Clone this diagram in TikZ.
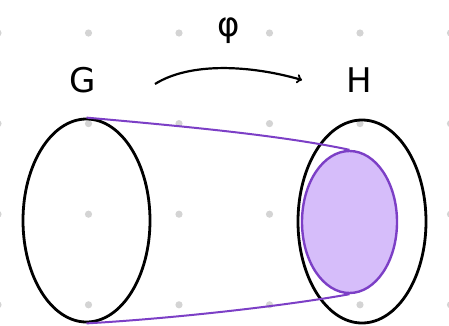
\documentclass[tikz,border=0pt]{standalone}
\usepackage{fontspec}
\setmainfont{DejaVu Sans}
\usetikzlibrary{arrows}
\usetikzlibrary{shapes.geometric}

\begin{document}
\begin{tikzpicture}[x=1pt,y=-1pt,
		set/.style={ellipse,draw=black,line width=2.8pt,inner sep=0pt},
		image/.style={ellipse,draw=imgline,fill=imgfill,line width=2.4pt,inner sep=0pt},
		label/.style={font=\fontsize{34}{34}\selectfont}]
		\definecolor{imgline}{HTML}{7C3FC6}
		\definecolor{imgfill}{HTML}{D6BDFA}
		\definecolor{griddot}{HTML}{D4D4D4}
		% Fixing the page to the size of the reference
		\useasboundingbox (0,0) rectangle (449,325);
		% Background grid of dots
		\foreach \i in {0,...,5}
			\foreach \j in {0,...,3}
				\fill[griddot] (-2+90.5*\i,33+90.6*\j) circle (3.6);
		% The two sets
		\node[set,minimum width=127,minimum height=203] (G set) at (86.5,220.5) {};
		\node[set,minimum width=128,minimum height=203] (H set) at (362,221.5) {};
		% The image of G inside H
		\node[image,minimum width=95,minimum height=142] (img) at (349.5,222) {};
		% Lines joining G to its image
		\draw[imgline,line width=2pt] (G set.north) .. controls (180,126) and (280,135) .. (img.north);
		\draw[imgline,line width=2pt] (G set.south) .. controls (180,318) and (290,305) .. (img.south);
		% Names of the sets and the map
		\node[label] (G) at (83,80) {G};
		\node[label] (H) at (359,80) {H};
		\coordinate (from) at (155,84);
		\coordinate (to) at (302,80);
		\draw[->,>=to,line width=2.2pt] (from) .. controls (190,62) and (250,65) .. (to);
		\node[label] (phi) at (229,31) {φ};
	\end{tikzpicture}
\end{document}
